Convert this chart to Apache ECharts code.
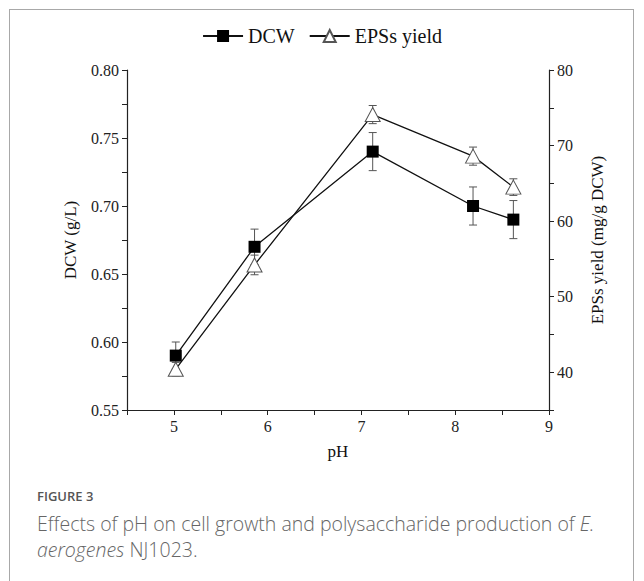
<!DOCTYPE html>
<html>
<head>
<meta charset="utf-8">
<script src="https://cdn.jsdelivr.net/npm/echarts@6/dist/echarts.min.js"></script>
<style>
  html, body { margin: 0; padding: 0; background: #fff; }
  #wrap { position: relative; width: 644px; height: 581px; overflow: hidden; }
  #card { position: absolute; left: 9px; top: 9px; width: 625px; height: 620px; border: 1px solid #a8a8a8; box-sizing: border-box; }
  #chart { position: absolute; left: 0; top: 0; width: 644px; height: 581px; }
  #figlabel { position: absolute; left: 37px; top: 487px; font-family: "Open Sans", sans-serif; font-size: 13px; font-weight: 600; color: #555; }
  #caption { position: absolute; left: 37px; top: 511px; font-family: "Open Sans", sans-serif; font-size: 19.5px; font-weight: 300; line-height: 26px; color: #666; white-space: nowrap; }
</style>
</head>
<body>
<div id="wrap">
  <div id="card"></div>
  <div id="chart"></div>
  <div id="figlabel">FIGURE 3</div>
  <div id="caption">Effects of pH on cell growth and polysaccharide production of <i>E.</i><br><i>aerogenes</i> NJ1023.</div>
</div>
<script>
// ---- data ----
var pH = [5.02, 5.86, 7.12, 8.19, 8.62];
var dcw = [0.590, 0.670, 0.740, 0.700, 0.690];
var dcwErr = [0.010, 0.013, 0.014, 0.014, 0.014];
var eps = [40.4, 54.2, 74.1, 68.6, 64.5];
var epsErr = [0.9, 1.3, 1.2, 1.2, 1.1];
var seriesNames = ['DCW', 'EPSs yield'];
var xTicks = [5, 6, 7, 8, 9];
var leftTicks = [0.55, 0.60, 0.65, 0.70, 0.75, 0.80];
var rightTicks = [40, 50, 60, 70, 80];

var serif = 'Liberation Serif';
var chart = echarts.init(document.getElementById('chart'), null, { renderer: 'svg' });

function pts(xs, ys) { return xs.map(function (x, i) { return [x, ys[i]]; }); }
function errData(xs, ys, es) { return xs.map(function (x, i) { return [x, ys[i] - es[i], ys[i] + es[i]]; }); }

function errRender(params, api) {
  var x = api.value(0);
  var lo = api.coord([x, api.value(1)]);
  var hi = api.coord([x, api.value(2)]);
  var w = 4;
  var st = { stroke: '#555', lineWidth: 1, fill: null };
  return {
    type: 'group',
    children: [
      { type: 'line', shape: { x1: lo[0], y1: lo[1], x2: hi[0], y2: hi[1] }, style: st },
      { type: 'line', shape: { x1: lo[0] - w, y1: lo[1], x2: lo[0] + w, y2: lo[1] }, style: st },
      { type: 'line', shape: { x1: hi[0] - w, y1: hi[1], x2: hi[0] + w, y2: hi[1] }, style: st }
    ]
  };
}

function near(list, v, eps) { return list.some(function (t) { return Math.abs(t - v) < eps; }); }

var axisLine = { show: true, lineStyle: { color: '#222', width: 1.2 } };
function lbl(fmt) {
  return {
    fontFamily: serif, fontSize: 16, color: '#222', margin: 8, formatter: fmt,
    textStyle: { fontFamily: serif, fontSize: 16, color: '#222' }
  };
}

chart.setOption({
  animation: false,
  textStyle: { fontFamily: serif },
  grid: { left: 127, right: 95, top: 70, bottom: 171 },
  legend: {
    top: 21, left: 'center',
    itemWidth: 40, itemHeight: 15, itemGap: 14,
    textStyle: { fontFamily: serif, fontSize: 20, color: '#111' },
    data: seriesNames
  },
  xAxis: {
    type: 'value', min: 4.5, max: 9, interval: 0.5,
    name: 'pH', nameLocation: 'middle', nameGap: 33,
    nameTextStyle: { fontFamily: serif, fontSize: 17, color: '#111' },
    axisLine: axisLine,
    axisTick: { show: true, length: 5, lineStyle: { color: '#222' } },
    splitLine: { show: false },
    axisLabel: lbl(function (v) { return near(xTicks, v, 1e-6) ? String(Math.round(v)) : ''; })
  },
  yAxis: [
    {
      type: 'value', min: 0.55, max: 0.80, interval: 0.025, position: 'left',
      name: 'DCW (g/L)', nameLocation: 'middle', nameGap: 48, nameRotate: 90,
      nameTextStyle: { fontFamily: serif, fontSize: 17, color: '#111' },
      axisLine: axisLine,
      axisTick: { show: true, length: 5, lineStyle: { color: '#222' } },
      splitLine: { show: false },
      axisLabel: lbl(function (v) { return near(leftTicks, v, 1e-6) ? v.toFixed(2) : ''; })
    },
    {
      type: 'value', min: 35, max: 80, interval: 5, position: 'right',
      name: 'EPSs yield (mg/g DCW)', nameLocation: 'middle', nameGap: 40, nameRotate: 90,
      nameTextStyle: { fontFamily: serif, fontSize: 17, color: '#111' },
      axisLine: axisLine,
      axisTick: { show: true, length: 5, lineStyle: { color: '#222' } },
      splitLine: { show: false },
      axisLabel: lbl(function (v) { return near(rightTicks, v, 1e-6) ? String(Math.round(v)) : ''; })
    }
  ],
  series: [
    {
      type: 'custom', name: 'dcwErr', yAxisIndex: 0, renderItem: errRender,
      data: errData(pH, dcw, dcwErr), z: 1, silent: true,
      encode: { x: 0, y: [1, 2] }
    },
    {
      type: 'custom', name: 'epsErr', yAxisIndex: 1, renderItem: errRender,
      data: errData(pH, eps, epsErr), z: 1, silent: true,
      encode: { x: 0, y: [1, 2] }
    },
    {
      name: seriesNames[0], type: 'line', yAxisIndex: 0,
      data: pts(pH, dcw),
      symbol: 'rect', symbolSize: 12,
      lineStyle: { color: '#111', width: 1.3 },
      itemStyle: { color: '#000', borderColor: '#000', borderWidth: 0 },
      z: 3
    },
    {
      name: seriesNames[1], type: 'line', yAxisIndex: 1,
      data: pts(pH, eps),
      symbol: 'triangle', symbolSize: [15, 14],
      lineStyle: { color: '#111', width: 1.3 },
      itemStyle: { color: '#fff', borderColor: '#555', borderWidth: 1 },
      z: 3
    }
  ]
});
</script>
</body>
</html>
